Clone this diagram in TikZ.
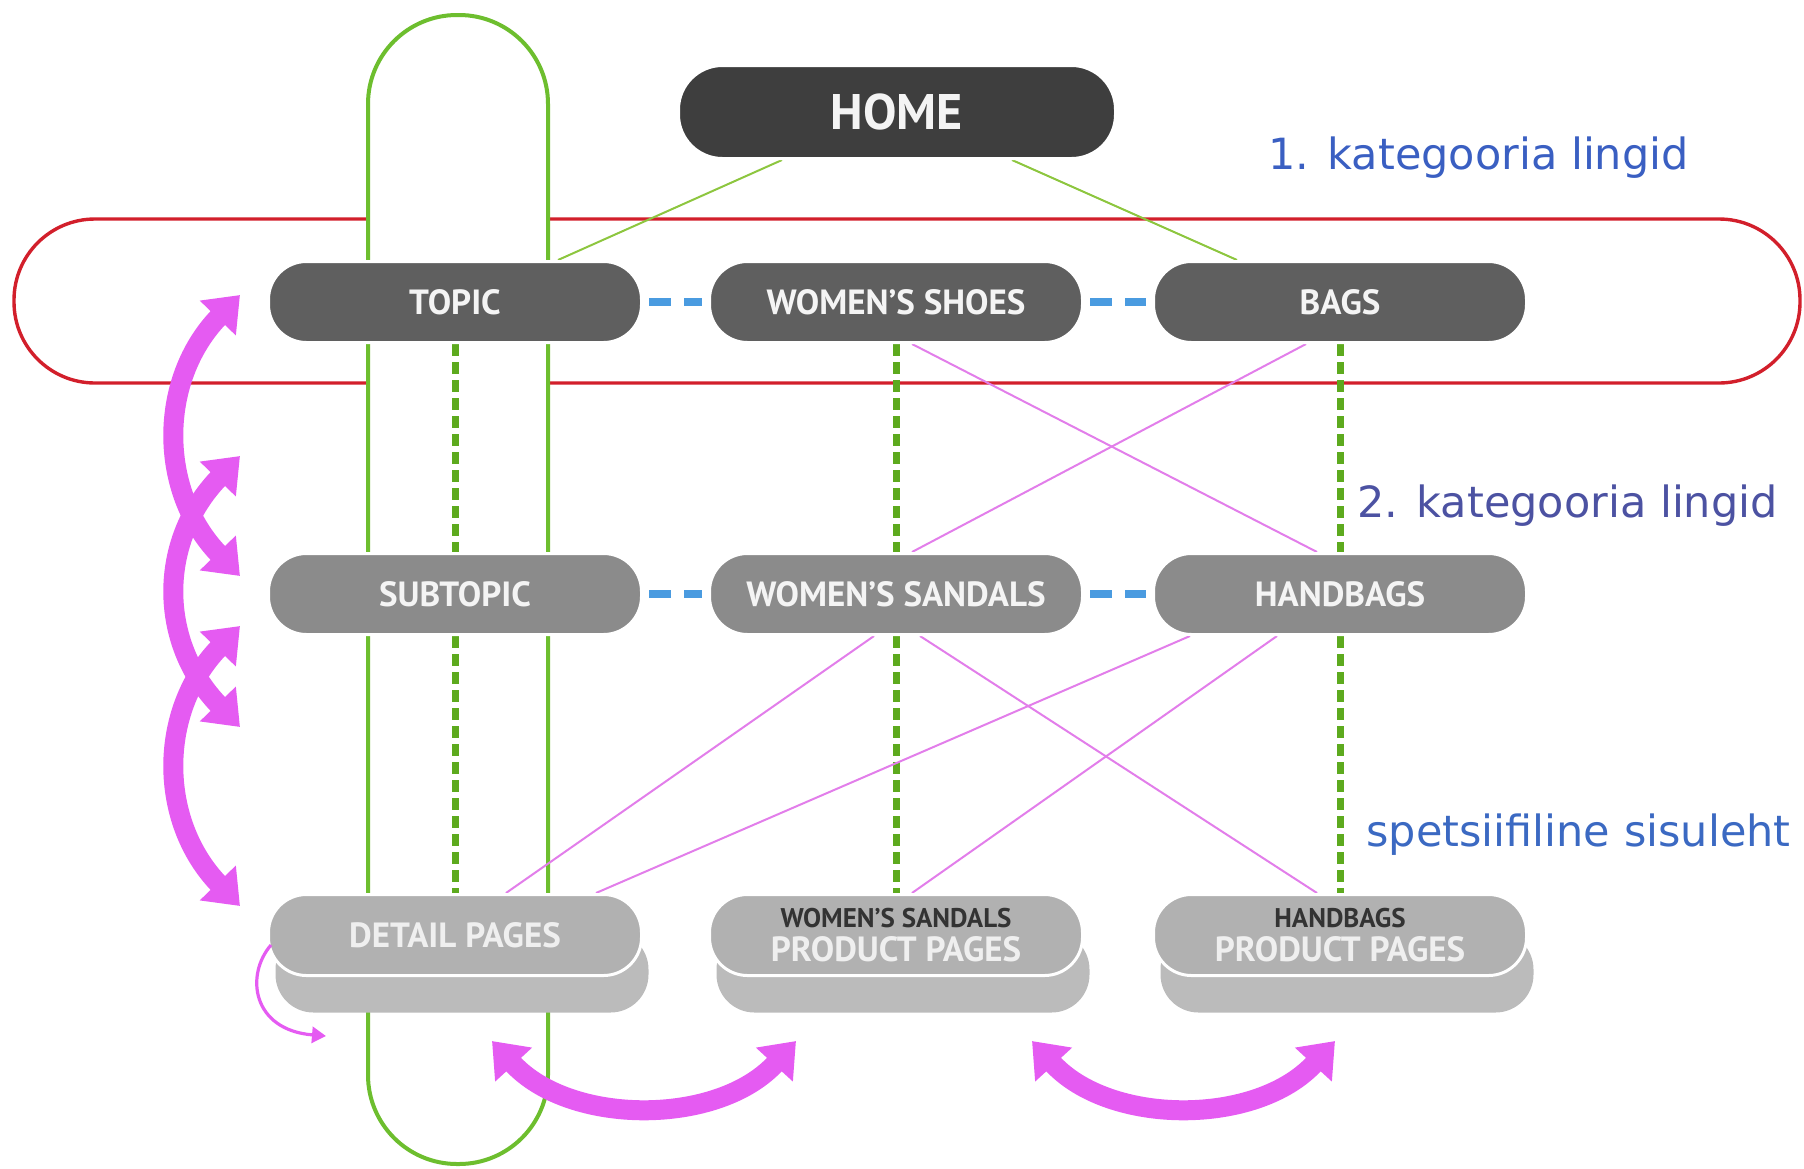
\documentclass[tikz,border=0pt]{standalone}
\usepackage{fontspec}
\setmainfont{PT Sans}
\newfontfamily\djv{DejaVu Sans}
\usetikzlibrary{arrows.meta,calc}
\pgfdeclarelayer{bgA}
\pgfdeclarelayer{bgB}
\pgfsetlayers{bgA,bgB,main}
\definecolor{homec}{HTML}{3E3E3E}
\definecolor{onec}{HTML}{5F5F5F}
\definecolor{twoc}{HTML}{8B8B8B}
\definecolor{threec}{HTML}{B1B1B1}
\definecolor{stackc}{HTML}{BBBBBB}
\definecolor{redc}{HTML}{D21F2B}
\definecolor{greenc}{HTML}{6DBE2E}
\definecolor{stripec}{HTML}{5DAA1E}
\definecolor{homeline}{HTML}{8DC63F}
\definecolor{bluec}{HTML}{4A9BE0}
\definecolor{magc}{HTML}{E55BF2}
\definecolor{magthin}{HTML}{E27EEA}
\definecolor{labA}{HTML}{3A5FC2}
\definecolor{labB}{HTML}{4C52A2}
\definecolor{labC}{HTML}{3B69C2}
\definecolor{smalltxt}{HTML}{333333}
\definecolor{boxtxt}{HTML}{F4F4F4}
\definecolor{paletxt}{HTML}{EFEFEF}
\begin{document}
\begin{tikzpicture}[x=0.5pt,y=-0.5pt,
  basebox/.style={draw=white, line width=1.5pt, rounded corners=19pt,
    minimum width=186.5pt, minimum height=40.5pt, inner sep=0pt, align=center,
    font=\fontsize{17.5}{18}\selectfont\bfseries, text=boxtxt},
  homebox/.style={basebox, fill=homec, minimum width=218.5pt, minimum height=46.5pt,
    rounded corners=22pt, font=\fontsize{25}{28}\selectfont\bfseries},
  lvlone/.style={basebox, fill=onec},
  lvltwo/.style={basebox, fill=twoc},
  lvlthree/.style={basebox, fill=threec, text=paletxt},
  stackbox/.style={basebox, fill=stackc, draw=none},
  lab/.style={font=\djv\fontsize{21.5}{24}\selectfont, inner sep=0pt, anchor=west},
  homelink/.style={draw=homeline, line width=1pt},
  crosslink/.style={draw=magthin, line width=1pt},
  stripe/.style={draw=stripec, line width=3.5pt, dash pattern=on 6pt off 3pt},
  bluedash/.style={draw=bluec, line width=4pt, dash pattern=on 11pt off 6.5pt,
    shorten <=3pt, shorten >=3pt},
  bigarrow/.style={draw=magc, line width=10pt,
    {Triangle[length=16pt,width=24pt]}-{Triangle[length=16pt,width=24pt]}},
  smallarrow/.style={draw=magc, line width=1.6pt, -{Triangle[length=7pt,width=8pt]}}
]
\useasboundingbox (0,0) rectangle (1804,1168);

% nodes
\node[homebox] (home) at (897,112) {HOME};
\node[lvlone] (topic) at (455,302) {TOPIC};
\node[lvlone] (ws) at (896,302) {WOMEN’S SHOES};
\node[lvlone] (bags) at (1340,302) {BAGS};
\node[lvltwo] (sub) at (455,594) {SUBTOPIC};
\node[lvltwo] (wsa) at (896,594) {WOMEN’S SANDALS};
\node[lvltwo] (hb) at (1340,594) {HANDBAGS};
\node[stackbox] (dpb) at (462,972) {};
\node[stackbox] (wsppb) at (903,972) {};
\node[stackbox] (hbppb) at (1347,972) {};
\node[lvlthree] (dp) at (455,935) {DETAIL PAGES};
\node[lvlthree] (wspp) at (896,935) {{\fontsize{13.5}{14}\selectfont\bfseries\color{smalltxt}WOMEN’S SANDALS}\\[-1pt]PRODUCT PAGES};
\node[lvlthree] (hbpp) at (1340,935) {{\fontsize{13.5}{14}\selectfont\bfseries\color{smalltxt}HANDBAGS}\\[-1pt]PRODUCT PAGES};

% labels
\node[lab, text=labA] (l1) at (1268,158) {1. kategooria lingid};
\node[lab, text=labB] (l2) at (1357,506) {2. kategooria lingid};
\node[lab, text=labC] (l3) at (1366,835) {spetsiifiline sisuleht};

% background frames
\begin{pgfonlayer}{bgA}
  \draw[redc, line width=1.7pt, rounded corners=40.5pt] (14,219) rectangle (1800,383);
  \draw[greenc, fill=white, line width=2pt, rounded corners=44.5pt] (368,15) rectangle (548,1164);
\end{pgfonlayer}

% connectors
\begin{pgfonlayer}{bgB}
  \draw[homelink] ($(home.south)+(-115,0)$) -- ($(topic.north)+(103,0)$);
  \draw[homelink] ($(home.south)+(115,0)$) -- ($(bags.north)+(-103,0)$);
  \draw[stripe] (topic.south) -- (sub.north);
  \draw[stripe] (ws.south) -- (wsa.north);
  \draw[stripe] (bags.south) -- (hb.north);
  \draw[stripe] (sub.south) -- (dp.north);
  \draw[stripe] (wsa.south) -- (wspp.north);
  \draw[stripe] (hb.south) -- (hbpp.north);
  \draw[crosslink] ($(ws.south)+(16,0)$) -- ($(hb.north)+(-23,0)$);
  \draw[crosslink] ($(bags.south)+(-34,0)$) -- ($(wsa.north)+(16,0)$);
  \draw[crosslink] ($(wsa.south)+(-22,0)$) -- ($(dp.north)+(51,0)$);
  \draw[crosslink] ($(wsa.south)+(24,0)$) -- ($(hbpp.north)+(-23,0)$);
  \draw[crosslink] ($(hb.south)+(-150,0)$) -- ($(dp.north)+(141,0)$);
  \draw[crosslink] ($(hb.south)+(-63,0)$) -- ($(wspp.north)+(16,0)$);
\end{pgfonlayer}

\draw[bluedash] (topic.east) -- (ws.west);
\draw[bluedash] (ws.east) -- (bags.west);
\draw[bluedash] (sub.east) -- (wsa.west);
\draw[bluedash] (wsa.east) -- (hb.west);

% big magenta arrows
\coordinate (a1s) at (240,295);
\coordinate (a1e) at (240,576);
\coordinate (a2s) at (240,456);
\coordinate (a2e) at (240,727);
\coordinate (a3s) at (240,626);
\coordinate (a3e) at (240,906);
\draw[bigarrow] (a1s) .. controls (158,380) and (158,491) .. (a1e);
\draw[bigarrow] (a2s) .. controls (158,541) and (158,642) .. (a2e);
\draw[bigarrow] (a3s) .. controls (158,711) and (158,821) .. (a3e);

\coordinate (b1s) at (492,1041);
\coordinate (b1e) at (796,1041);
\coordinate (b2s) at (1032,1041);
\coordinate (b2e) at (1335,1041);
\draw[bigarrow] (b1s) .. controls (570,1126) and (718,1126) .. (b1e);
\draw[bigarrow] (b2s) .. controls (1110,1126) and (1257,1126) .. (b2e);

\coordinate (cend) at (326,1036);
\draw[smallarrow] ($(dp.west)+(4,10)$) .. controls (245,975) and (252,1030) .. (cend);
\end{tikzpicture}
\end{document}
